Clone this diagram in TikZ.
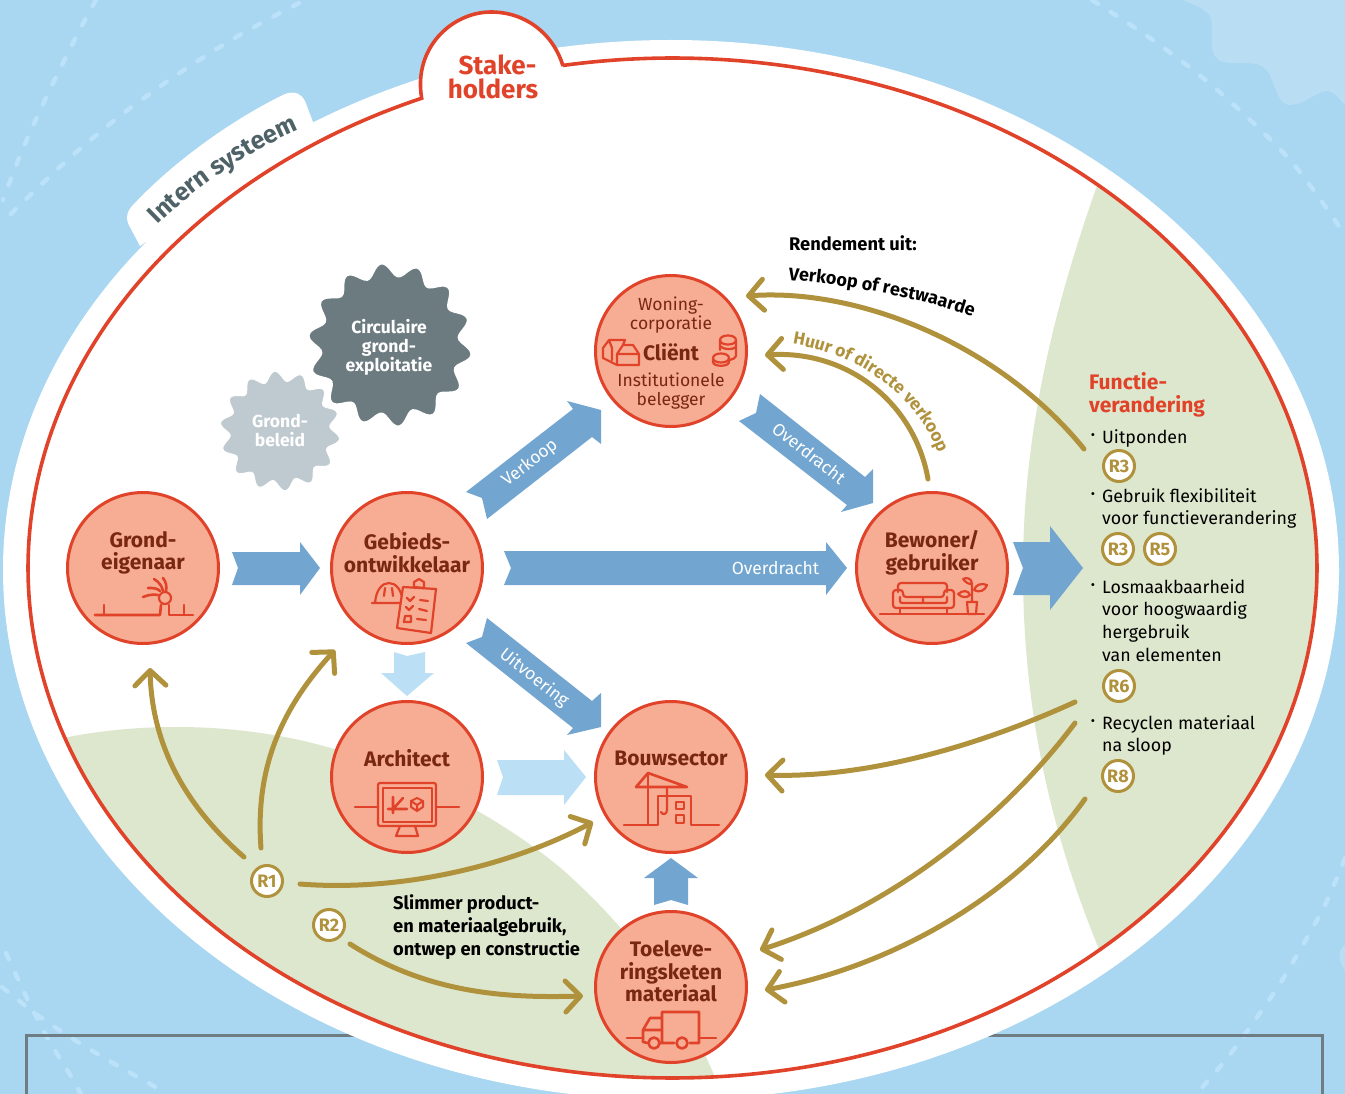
\documentclass[tikz,border=0pt]{standalone}
\usepackage{fontspec}
\setmainfont{Fira Sans}
\usetikzlibrary{arrows.meta,decorations.text,calc}
\definecolor{sky}{HTML}{A9D6F0}
\definecolor{skylight}{HTML}{B9DEF4}
\definecolor{dashc}{HTML}{BBE2F9}
\definecolor{framec}{HTML}{6F7D83}
\definecolor{greenc}{HTML}{DDE7CD}
\definecolor{redc}{HTML}{E0432A}
\definecolor{salmon}{HTML}{F6AD93}
\definecolor{darkred}{HTML}{7A2710}
\definecolor{blueA}{HTML}{72A5CF}
\definecolor{blueL}{HTML}{BBDFF4}
\definecolor{gold}{HTML}{B0923D}
\definecolor{slate}{HTML}{6B7B80}
\definecolor{slatedark}{HTML}{4E6268}
\definecolor{mist}{HTML}{BFCAD0}
\tikzset{
  actor/.style={circle,draw=redc,fill=salmon,line width=3pt,minimum size=151pt,inner sep=0pt},
  actortext/.style={text=darkred,align=center,font=\fontsize{21}{22.7}\selectfont\bfseries,inner sep=0pt},
  actorthin/.style={text=darkred,align=center,font=\fontsize{17.5}{19}\selectfont,inner sep=0pt},
  icon/.style={draw=redc,line width=2.6pt,line cap=round,line join=round},
  bluearrow/.style={fill=blueA},
  lightarrow/.style={fill=blueL},
  arrowlabel/.style={text=white,font=\fontsize{17.5}{20}\selectfont,inner sep=0pt},
  goldarrow/.style={draw=gold,line width=5pt,line cap=round,-{Straight Barb[length=15pt,width=31pt,line width=5pt,round]}},
  badge/.style={circle,draw=gold,fill=white,line width=3pt,minimum size=31pt,inner sep=0pt,text=gold,font=\fontsize{18}{20}\selectfont\bfseries},
  dashline/.style={draw=dashc,line width=4.5pt,line cap=round,dash pattern=on 7pt off 15pt},
  listtext/.style={text=black,align=left,anchor=north west,font=\fontsize{17.8}{22.7}\selectfont,inner sep=0pt},
  bullettext/.style={text=black,font=\fontsize{13}{14}\selectfont,inner sep=0pt},
  blacktext/.style={text=black,align=left,anchor=north west,font=\fontsize{18.3}{23}\selectfont\bfseries,inner sep=0pt},
  redtitle/.style={text=redc,align=left,font=\fontsize{21}{23}\selectfont\bfseries,inner sep=0pt},
  blobtext/.style={text=white,align=center,font=\fontsize{17.5}{19}\selectfont\bfseries,inner sep=0pt},
}
\begin{document}
\begin{tikzpicture}[x=1pt,y=-1pt]
\useasboundingbox (0,0) rectangle (1345,1094);
% background
\fill[sky] (0,0) rectangle (1345,1094);
\fill[skylight] (1183,0) .. controls (1200,8) and (1212,10) .. (1212,25) .. controls (1212,45) and (1208,62) .. (1230,63) .. controls (1250,64) and (1262,60) .. (1270,75) .. controls (1278,95) and (1280,105) .. (1290,105) .. controls (1305,105) and (1318,90) .. (1328,91) .. controls (1335,92) and (1340,100) .. (1345,105) -- (1345,0) -- cycle;
\fill[skylight] (1345,945) .. controls (1338,950) and (1337,960) .. (1345,970) -- cycle;
% dashed rings
\draw[dashline] plot[smooth] coordinates {(96,0) (77,35) (57,75) (37,117) (19,158) (3,200)};
\draw[dashline] plot[smooth] coordinates {(299,3) (238,36) (181,72) (125,112) (73,155) (23,202) (3,222)};
\draw[dashline] plot[smooth] coordinates {(1092,0) (1150,38) (1215,88) (1290,160) (1345,235)};
\draw[dashline] plot[smooth] coordinates {(6,953) (25,994) (47,1037) (69,1073) (81,1094)};
\draw[dashline] plot[smooth] coordinates {(2,987) (36,1014) (73,1039) (113,1063) (168,1094)};
\draw[dashline] plot[smooth] coordinates {(1345,858) (1326,903) (1304,943) (1281,982) (1255,1020) (1228,1057) (1198,1092)};
% frame
\draw[framec,line width=3pt] (26,1094) -- (26,1035) -- (1322,1035) -- (1322,1094);
% white system
\fill[white] (671,570) ellipse [x radius=668,y radius=530];
\fill[white] (140,246) -- (131,229) .. controls (125,220) and (126,212) .. (133,205) .. controls (175,160) and (235,118) .. (285,94) .. controls (296,90) and (302,95) .. (305,101) -- (316,130) -- cycle;
\fill[white] (422,105) .. controls (413,48) and (452,11) .. (491,11) .. controls (525,11) and (553,33) .. (564,70) -- cycle;
% green zones
\begin{scope}
  \clip (672.5,568) ellipse [x radius=644.5,y radius=510];
  \fill[greenc] (1110,150) .. controls (1050,310) and (1023,440) .. (1023,570) .. controls (1023,720) and (1055,850) .. (1110,975) -- (1345,975) -- (1345,150) -- cycle;
  \fill[greenc] (40,742) -- (68,737) .. controls (105,730) and (140,727) .. (177,727) .. controls (225,727) and (275,733) .. (320,745) .. controls (420,772) and (510,825) .. (563,870) .. controls (630,930) and (685,1000) .. (722,1094) -- (0,1094) -- cycle;
\end{scope}
% red line with dome
\draw[redc,line width=3.6pt,line join=miter] plot[domain=99.8:-247.1,samples=420] ({672.5+644.5*cos(\x)},{568-510*sin(\x)}) .. controls (413,48) and (452,12) .. (491,12) .. controls (525,12) and (553,33) .. (563,66);
% tab labels
\node[text=redc,align=center,font=\fontsize{26}{24}\selectfont\bfseries,inner sep=0pt] (stake) at (493,77) {\hspace*{9pt}Stake-\\holders};
\path[decorate,decoration={text along path,text align=center,text={|\fontsize{25}{28}\selectfont\bfseries\color{slatedark}|Intern systeem}}] (152,231) .. controls (192,189) and (252,149) .. (307,127);
% blobs
\fill[mist,draw=white,line width=1pt] plot[smooth cycle,domain=0:357.86,samples=168] ({280+(55+5*cos(14*\x+250))*cos(\x)},{431+(55+5*cos(14*\x+250))*sin(\x)});
\fill[slate,draw=white,line width=2pt] plot[smooth cycle,domain=0:357.86,samples=168] ({390+(75.5+6.5*cos(14*\x+264))*cos(\x)},{345+(75.5+6.5*cos(14*\x+264))*sin(\x)});
\node[blobtext] (beleid) at (280,431) {Grond-\\beleid};
\node[blobtext] (expl) at (389,347) {Circulaire\\grond-\\exploitatie};
% block arrows
\fill[bluearrow] (232,552) -- (300,552) -- (300,542) -- (320,568) -- (300,595) -- (300,585) -- (232,585) -- (238,568) -- cycle;
\fill[bluearrow] (504,551) -- (826,551) -- (826,542) -- (847,568) -- (826,595) -- (826,585) -- (504,585) -- (511,568) -- cycle;
\fill[bluearrow] (466,492) -- (573,409) -- (567,401) -- (601,410) -- (601,444) -- (592,437) -- (487,519) -- (482,498) -- cycle;
\fill[bluearrow] (487,618) -- (592,701) -- (601,693) -- (601,727) -- (567,735) -- (573,728) -- (466,643) -- (482,637) -- cycle;
\fill[bluearrow] (760,394) -- (865,477) -- (873,469) -- (873,503) -- (841,512) -- (847,505) -- (739,421) -- (756,413) -- cycle;
\fill[bluearrow] (1013,542) -- (1050,542) -- (1050,526) -- (1083,568) -- (1050,610) -- (1050,595) -- (1013,595) -- (1023,568) -- cycle;
\fill[bluearrow] (654,905) -- (654,878) -- (644,878) -- (671,858) -- (698,878) -- (688,878) -- (688,905) -- (671,900) -- cycle;
\fill[lightarrow] (394,652) -- (407,656) -- (425,652) -- (425,673) -- (434,673) -- (407,696) -- (381,673) -- (394,673) -- cycle;
\fill[lightarrow] (497,760) -- (564,760) -- (564,750) -- (586,777) -- (564,805) -- (564,795) -- (497,795) -- (503,777) -- cycle;
\node[arrowlabel] (l1) at (775.5,568) {Overdracht};
\node[arrowlabel,rotate=38] (l2) at (530,463) {Verkoop};
\node[arrowlabel,rotate=-38] (l3) at (534,678) {Uitvoering};
\node[arrowlabel,rotate=-38] (l4) at (809,453) {Overdracht};
% actors
\node[actor] (grond) at (143,568) {};
\node[actor] (gebied) at (407,568) {};
\node[actor] (woning) at (671,351) {};
\node[actor] (bewoner) at (932,568) {};
\node[actor] (arch) at (407,777) {};
\node[actor] (bouw) at (671,777) {};
\node[actor] (toelev) at (671,987) {};
\node[actortext] (t1) at (143,553) {Grond-\\eigenaar};
\node[actortext] (t2) at (407,553) {Gebieds-\\ontwikkelaar};
\node[actorthin] (t3a) at (671,315.5) {Woning-\\corporatie};
\node[actortext] (t3b) at (671,352) {Cliënt};
\node[actorthin] (t3c) at (671,391.5) {Institutionele\\belegger};
\node[actortext] (t4) at (932,552.5) {Bewoner/\\gebruiker};
\node[actortext] (t5) at (407,758) {Architect};
\node[actortext] (t6) at (671,758) {Bouwsector};
\node[actortext] (t7) at (671,971.5) {Toeleve-\\ringsketen\\materiaal};
% icon: ground
\draw[icon] (95,615) -- (160,615) -- (161,605);
\draw[icon] (169,605) -- (169,615) -- (193,615);
\draw[icon] (104,615) -- (104,605) (184,615) -- (184,605);
\draw[icon,line width=2.2pt] (165,598) circle (6pt);
\draw[icon] (158,595) .. controls (153,594) and (148,595) .. (143,597);
\draw[icon] (160,591) .. controls (157,588) and (153,588) .. (148,588);
\draw[icon] (163,591) .. controls (162,586) and (159,582) .. (154,579);
\draw[icon] (166,591) .. controls (167,586) and (166,582) .. (163,578);
% icon: developer
\draw[icon,line width=2.2pt] (372,603) -- (406,603) (375,603) .. controls (376,590) and (382,583) .. (389,583) .. controls (396,583) and (402,590) .. (403,603);
\draw[icon,line width=2.2pt] (385,588) -- (384,596) (392,588) -- (393,596);
\draw[salmon,fill=salmon,line width=1pt] (403,587) -- (436,589) -- (431,633) -- (397,628) -- cycle;
\draw[icon,line width=2.2pt] (403,587) -- (436,589) -- (431,633) -- (397,628) -- cycle;
\draw[icon,fill=salmon,line width=2.2pt] (414,587) -- (414,582) -- (419,579) -- (424,582) -- (424,588) -- cycle;
\draw[icon,line width=2.2pt] (407,598) -- (410,601) -- (414,597) (420,600) -- (428,601);
\draw[icon,line width=2.2pt] (406,607) -- (409,610) -- (413,606) (419,609) -- (427,611);
\draw[icon,line width=2.2pt] (405,616) -- (411,616) -- (411,622) -- (404,622) -- cycle (417,619) -- (426,620);
% icon: client houses and coins
\draw[icon,line width=2.2pt] (617,354) -- (639,354) -- (639,365) -- (617,365) -- cycle (617,354) -- (623,345) -- (633,345) -- (639,354);
\draw[icon,line width=2.2pt] (623,345) -- (625,340) -- (609,340) -- (603,348) -- (603,358) -- (617,365) (609,340) -- (612,348) -- (612,360);
\draw[icon,line width=2.2pt] (720,340) .. controls (720,334) and (736,334) .. (736,340) .. controls (736,346) and (720,346) .. (720,340) (720,340) -- (720,350) (736,340) -- (736,356) .. controls (736,358) and (733,359) .. (730,360) (720,346) .. controls (724,350) and (732,350) .. (736,347);
\draw[icon,line width=2.2pt] (713,358) .. controls (713,352) and (729,352) .. (729,358) .. controls (729,364) and (713,364) .. (713,358) (713,358) -- (713,362) .. controls (713,367) and (729,367) .. (729,362) -- (729,358);
% icon: sofa and plant
\draw[icon] (880,614) -- (984,614);
\draw[icon,line width=2.2pt,rounded corners=3pt] (898,592) -- (898,583) -- (947,583) -- (947,592);
\draw[icon,line width=2.2pt,rounded corners=3pt] (900,608) -- (893,608) -- (893,590) -- (903,590) -- (903,597) -- (944,597) -- (944,590) -- (954,590) -- (954,608) -- cycle;
\draw[icon,line width=2.2pt,rounded corners=2pt] (900,597) -- (900,603) -- (947,603) -- (947,597) (923,597) -- (923,603);
\draw[icon,line width=2.2pt] (900,608) -- (900,614) (947,608) -- (947,614);
\draw[icon,line width=2.2pt] (967,602) -- (977,602) -- (976,614) -- (968,614) -- cycle (972,602) -- (972,585);
\draw[icon,line width=2.2pt] (972,584) .. controls (964,584) and (963,577) .. (963,579) .. controls (966,577) and (972,578) .. (972,584) (974,590) .. controls (976,584) and (982,583) .. (987,585) .. controls (985,591) and (979,593) .. (974,590) (970,595) .. controls (968,590) and (963,590) .. (958,594) .. controls (962,598) and (967,598) .. (970,595);
% icon: monitor
\draw[icon] (355,807) -- (378,807) (436,807) -- (459,807);
\draw[icon,rounded corners=2pt,line width=2.2pt] (378,783) rectangle (436,826);
\draw[icon,line width=2.2pt] (383,788) rectangle (432,822);
\draw[icon,line width=2.2pt] (400,826) -- (396,836) -- (418,836) -- (415,826);
\draw[icon] (393,797) -- (393,813) (388,809) -- (407,809) (393,809) -- (403,798);
\draw[icon,line width=2pt] (417,798) -- (423,801) -- (423,807) -- (417,811) -- (411,807) -- (411,801) -- cycle (411,801) -- (417,805) -- (423,801) (417,805) -- (417,811);
% icon: crane
\draw[icon] (624,825) -- (658,825) -- (658,796) -- (691,796) -- (691,825) -- (719,825);
\draw[icon] (648,773) -- (648,825);
\draw[icon] (636,787) -- (648,773) -- (687,787) -- cycle;
\draw[icon,line width=2.2pt] (667,787) -- (667,810) .. controls (667,815) and (662,815) .. (661,812);
\draw[icon,line width=2.2pt] (676,802) rectangle (684,809) (676,815) rectangle (684,823);
% icon: truck
\draw[icon] (627,1038) -- (643,1038) (699,1038) -- (716,1038);
\draw[icon] (662,1043) -- (662,1012) -- (699,1012) -- (699,1043) -- (690,1043) (660,1043) -- (674,1043) (648,1043) -- (643,1042) -- (643,1030) -- (650,1018) -- (662,1018) (644,1030) -- (660,1030);
\draw[icon] (654,1043) circle (5.5pt) (682,1043) circle (5.5pt);
% list
\node[redtitle,anchor=north west] (funct) at (1089,372.5) {Functie-\\verandering};
\node[bullettext] (b1) at (1093,437) {•};
\node[listtext] (li1) at (1102,429) {Uitponden};
\node[bullettext] (b2) at (1093,496) {•};
\node[listtext] (li2) at (1102,488) {Gebruik flexibiliteit\\voor functieverandering};
\node[bullettext] (b3) at (1093,587) {•};
\node[listtext] (li3) at (1102,579) {Losmaakbaarheid\\voor hoogwaardig\\hergebruik\\van elementen};
\node[bullettext] (b4) at (1093,723) {•};
\node[listtext] (li4) at (1102,715) {Recyclen materiaal\\na sloop};
\node[badge] (r3a) at (1119,466) {R3};
\node[badge] (r3b) at (1118,549) {R3};
\node[badge] (r5) at (1160,549) {R5};
\node[badge] (r6) at (1119,686) {R6};
\node[badge] (r8) at (1118,776) {R8};
\node[badge] (r1) at (267,881) {R1};
\node[badge] (r2) at (329,925) {R2};
% gold connectors
\coordinate (s1) at (1084,449); \coordinate (e1) at (746,296);
\coordinate (s2) at (928,479); \coordinate (e2) at (765,355);
\coordinate (s3) at (244,857); \coordinate (e3) at (150,668);
\coordinate (s4) at (261,848); \coordinate (e4) at (335,650);
\coordinate (s5) at (300,884); \coordinate (e5) at (593,822);
\coordinate (s6) at (350,944); \coordinate (e6) at (583,996);
\coordinate (s7) at (1075,702); \coordinate (e7) at (765,775);
\coordinate (s8) at (1075,723); \coordinate (e8) at (760,950);
\coordinate (s9) at (1085,799); \coordinate (e9) at (765,990);
\draw[goldarrow] (s1) .. controls (1000,345) and (860,288) .. (e1);
\draw[goldarrow] (s2) .. controls (915,405) and (850,350) .. (e2);
\draw[goldarrow] (s3) .. controls (190,810) and (152,750) .. (e3);
\draw[goldarrow] (s4) .. controls (255,770) and (280,710) .. (e4);
\draw[goldarrow] (s5) .. controls (400,892) and (510,866) .. (e5);
\draw[goldarrow] (s6) .. controls (430,995) and (510,998) .. (e6);
\draw[goldarrow] (s7) .. controls (970,750) and (860,778) .. (e7);
\draw[goldarrow] (s8) .. controls (1010,810) and (900,905) .. (e8);
\draw[goldarrow] (s9) .. controls (1020,890) and (900,965) .. (e9);
% free labels
\node[blacktext] (rend) at (789,235) {Rendement uit:};
\path[decorate,decoration={text along path,text align=center,text={|\fontsize{18}{20}\selectfont\bfseries\color{black}|Verkoop of restwaarde}}] (787,280) .. controls (850,285) and (920,298) .. (974,317);
\path[decorate,decoration={text along path,text align=center,text={|\fontsize{17.5}{20}\selectfont\bfseries\color{gold}|Huur of directe verkoop}}] (793,344) .. controls (860,355) and (915,395) .. (938,453);
\node[blacktext] (slim) at (393,894.5) {Slimmer product-\\en materiaalgebruik,\\ontwep en constructie};
\end{tikzpicture}
\end{document}
